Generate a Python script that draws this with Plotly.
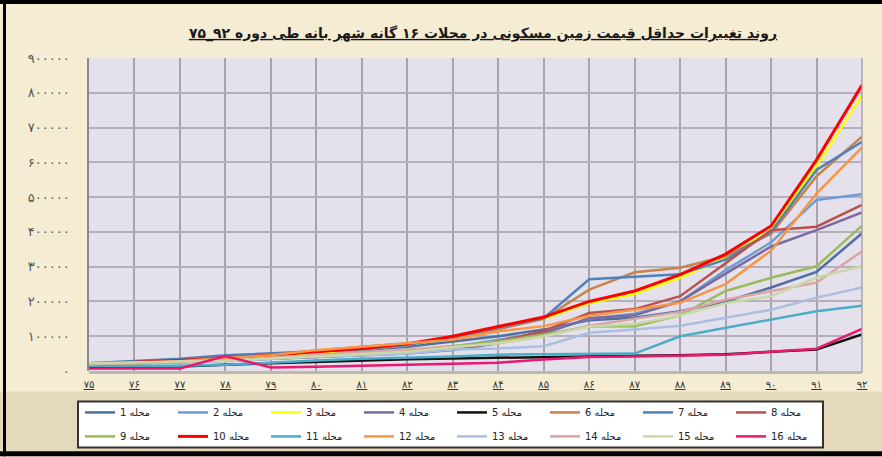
import plotly.graph_objects as go

years = ["۷۵", "۷۶", "۷۷", "۷۸", "۷۹", "۸۰", "۸۱", "۸۲", "۸۳",
         "۸۴", "۸۵", "۸۶", "۸۷", "۸۸", "۸۹", "۹۰", "۹۱", "۹۲"]

mahalle_1 = [20000, 24000, 28000, 35000, 42000, 50000, 60000, 70000, 85000,
             100000, 119000, 146000, 153000, 172000, 200000, 240000, 285000, 396000]
mahalle_2 = [20000, 25000, 30000, 38000, 42000, 45000, 50000, 55000, 70000,
             90000, 110000, 150000, 165000, 200000, 290000, 370000, 492000, 508000]
mahalle_3 = [20000, 24000, 28000, 35000, 42000, 52000, 62000, 75000, 97000,
             125000, 150000, 195000, 222000, 268000, 326000, 405000, 590000, 792000]
mahalle_4 = [20000, 22000, 25000, 30000, 35000, 40000, 45000, 50000, 60000,
             80000, 108000, 152000, 160000, 200000, 280000, 358000, 405000, 456000]
mahalle_5 = [12000, 12000, 13000, 18000, 22000, 27000, 32000, 34000, 36000,
             38000, 42000, 44000, 44000, 45000, 48000, 55000, 62000, 105000]
mahalle_6 = [22000, 25000, 30000, 38000, 48000, 58000, 68000, 80000, 95000,
             120000, 150000, 234000, 284000, 297000, 330000, 395000, 560000, 674000]
mahalle_7 = [22000, 28000, 35000, 45000, 50000, 55000, 62000, 75000, 98000,
             125000, 152000, 264000, 272000, 278000, 320000, 400000, 578000, 659000]
mahalle_8 = [20000, 22000, 25000, 30000, 35000, 40000, 45000, 52000, 65000,
             85000, 115000, 167000, 178000, 215000, 310000, 405000, 415000, 478000]
mahalle_9 = [20000, 22000, 25000, 30000, 38000, 45000, 52000, 60000, 72000,
             85000, 105000, 128000, 129000, 160000, 230000, 268000, 301000, 418000]
mahalle_10 = [20000, 25000, 30000, 38000, 45000, 55000, 65000, 78000, 100000,
              128000, 155000, 200000, 230000, 277000, 336000, 417000, 607000, 822000]
mahalle_11 = [15000, 15000, 15000, 18000, 25000, 30000, 35000, 38000, 42000,
              47000, 48000, 48000, 50000, 100000, 124000, 150000, 172000, 188000]
mahalle_12 = [20000, 22000, 28000, 38000, 45000, 60000, 70000, 80000, 90000,
              114000, 129000, 159000, 176000, 196000, 250000, 346000, 510000, 643000]
mahalle_13 = [20000, 22000, 24000, 28000, 35000, 40000, 45000, 50000, 62000,
              65000, 71000, 110000, 119000, 130000, 153000, 176000, 211000, 240000]
mahalle_14 = [20000, 22000, 26000, 30000, 38000, 45000, 52000, 60000, 70000,
              80000, 100000, 130000, 150000, 170000, 205000, 229000, 254000, 344000]
mahalle_15 = [22000, 25000, 28000, 30000, 36000, 42000, 48000, 55000, 68000,
              80000, 100000, 128000, 135000, 160000, 195000, 215000, 268000, 301000]
mahalle_16 = [7000, 7000, 7000, 43000, 10000, 12000, 15000, 18000, 21000,
              24000, 33000, 40000, 42000, 44000, 47000, 55000, 64000, 121000]

series = [mahalle_1, mahalle_2, mahalle_3, mahalle_4, mahalle_5, mahalle_6,
          mahalle_7, mahalle_8, mahalle_9, mahalle_10, mahalle_11, mahalle_12,
          mahalle_13, mahalle_14, mahalle_15, mahalle_16]
names = [str(i) + " محله" for i in range(1, 17)]
colors = ["#4F6FA0", "#6E9BD0", "#FFFF00", "#7B6A9E", "#111111", "#C5844A",
          "#4F81BD", "#B9514E", "#9BBB59", "#FF0000", "#4BACC6", "#F79646",
          "#A9BFE0", "#D8A5A5", "#C9D9A6", "#E8196F"]
widths = [2.5] * 16
widths[9] = 3

y_ticks = [0, 100000, 200000, 300000, 400000, 500000, 600000, 700000, 800000, 900000]
y_tick_text = ["۰", "۱۰۰۰۰۰", "۲۰۰۰۰۰", "۳۰۰۰۰۰", "۴۰۰۰۰۰", "۵۰۰۰۰۰",
               "۶۰۰۰۰۰", "۷۰۰۰۰۰", "۸۰۰۰۰۰", "۹۰۰۰۰۰"]

title_text = "روند تغییرات حداقل قیمت زمین مسکونی در محلات ۱۶ گانه شهر بانه طی دوره ۹۲_۷۵"

FONT = "DejaVu Sans"

fig = go.Figure()
for i, (vals, nm, col, w) in enumerate(zip(series, names, colors, widths)):
    fig.add_trace(go.Scatter(x=years, y=vals, name=nm, mode="lines",
                             line=dict(color=col, width=w),
                             legend="legend" if i < 8 else "legend2"))

W, H = 882, 457
L, R, T, B = 89, 20, 58, 85.5
pw, ph = W - L - R, H - T - B


def px(xp):
    return (xp - L) / pw


def py(yp):
    return (H - B - yp) / ph


shapes = [
    # darker beige lower band
    dict(type="rect", xref="paper", yref="paper", x0=px(0), x1=px(W),
         y0=py(H), y1=py(392), fillcolor="#E4D9BA", line_width=0, layer="below"),
    # black frame pieces
    dict(type="rect", xref="paper", yref="paper", x0=px(0), x1=px(W),
         y0=py(4), y1=py(0), fillcolor="#000000", line_width=0),
    dict(type="rect", xref="paper", yref="paper", x0=px(3), x1=px(6),
         y0=py(H), y1=py(0), fillcolor="#000000", line_width=0),
    dict(type="rect", xref="paper", yref="paper", x0=px(0), x1=px(W),
         y0=py(H), y1=py(452), fillcolor="#000000", line_width=0),
    # plot floor and walls
    dict(type="line", xref="paper", yref="paper", x0=0, x1=1, y0=py(373), y1=py(373),
         line=dict(color="#BDB8B0", width=3)),
    dict(type="line", xref="paper", yref="paper", x0=1, x1=1, y0=py(373), y1=1,
         line=dict(color="#A9A5AE", width=1.5)),
    # legend box
    dict(type="rect", xref="paper", yref="paper", x0=px(78), x1=px(823),
         y0=py(448), y1=py(402), fillcolor="#FFFFFF",
         line=dict(color="#333333", width=2)),
]

legend_common = dict(orientation="h", xanchor="left", yanchor="middle",
                     bgcolor="rgba(0,0,0,0)", borderwidth=0,
                     entrywidth=48, entrywidthmode="pixels", traceorder="normal",
                     font=dict(family=FONT, size=10, color="#222"), tracegroupgap=0)

fig.update_layout(
    width=W, height=H,
    margin=dict(l=L, r=R, t=T, b=B, pad=0, autoexpand=False),
    paper_bgcolor="#F5ECD4",
    plot_bgcolor="#E5E1EC",
    font=dict(family=FONT, size=10, color="#222"),
    title=dict(text="<b><u>" + title_text + "</u></b>", x=483 / W, xref="container",
               xanchor="center", y=1 - 33 / H, yref="container", yanchor="middle",
               font=dict(family=FONT, size=14, color="#1a1a1a")),
    xaxis=dict(type="category", range=[0, 17], showgrid=True, gridcolor="#A8A4AE",
               gridwidth=1.5, tickvals=years, ticktext=["<u>" + t + "</u>" for t in years],
               tickfont=dict(family=FONT, size=10, color="#333"), ticks="",
               ticklabelstandoff=6, showline=False, zeroline=False),
    yaxis=dict(range=[0, 900000], tickvals=y_ticks, ticktext=y_tick_text,
               showgrid=True, gridcolor="#B4AFBB", gridwidth=2,
               tickfont=dict(family=FONT, size=13, color="#555"), ticks="",
               ticklabelstandoff=15, showline=True, linecolor="#8C8890", linewidth=1.5,
               zeroline=False),
    legend=dict(x=px(80), y=py(413), **legend_common),
    legend2=dict(x=px(80), y=py(437), **legend_common),
    shapes=shapes,
    showlegend=True,
)

fig.write_html("out.html", post_script="document.body.style.margin='0';",
               config={"displayModeBar": False})
